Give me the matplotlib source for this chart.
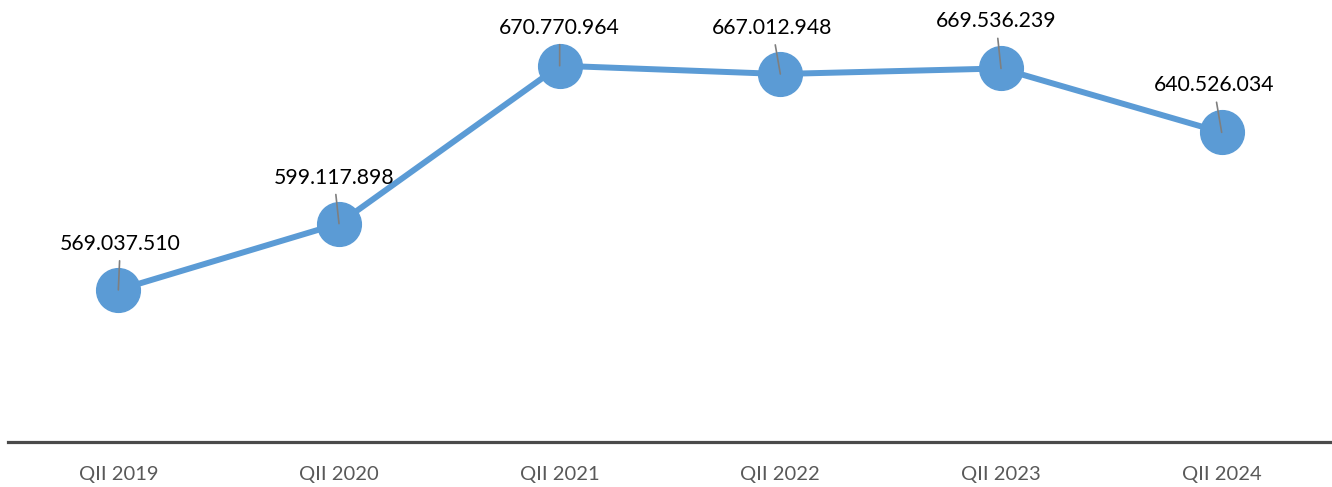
import matplotlib
matplotlib.use('Agg')
import matplotlib.pyplot as plt

# Datos
periodos = ["QII 2019", "QII 2020", "QII 2021", "QII 2022", "QII 2023", "QII 2024"]
valores = [569037510, 599117898, 670770964, 667012948, 669536239, 640526034]
etiquetas = ["569.037.510", "599.117.898", "670.770.964", "667.012.948", "669.536.239", "640.526.034"]

# desplazamiento de las etiquetas (pixeles)
desplazamientos = [(2, 36), (-5, 36), (0, 28), (-8, 36), (-5, 37), (-8, 37)]

plt.rcParams['font.family'] = ['Lato', 'DejaVu Sans']

fig = plt.figure(figsize=(13.32, 4.87), dpi=100)
ax = fig.add_axes([8 / 1332, 45 / 487, 1324 / 1332, 442 / 487])

x = list(range(len(periodos)))
ax.plot(x, valores, color="#5B9BD5", lw=4.3, marker="o", markersize=31.5, zorder=2)

for xi, v, txt, off in zip(x, valores, etiquetas, desplazamientos):
    ax.annotate(txt, (xi, v), xytext=off, textcoords="offset pixels",
                ha="center", va="bottom", fontsize=15.3, color="black",
                arrowprops=dict(arrowstyle="-", color="#7f7f7f", lw=1.2,
                                shrinkA=3, shrinkB=0),
                zorder=5)

ax.set_xlim(-0.5, len(periodos) - 0.5)
ax.set_ylim(500e6, 700.6e6)
ax.set_xticks(x)
ax.set_xticklabels(periodos, fontsize=14.5, color="#595959")
ax.tick_params(axis="x", length=0, pad=17)
ax.set_yticks([])
for s in ["top", "left", "right"]:
    ax.spines[s].set_visible(False)
ax.spines["bottom"].set_color("#4a4a4a")
ax.spines["bottom"].set_linewidth(2.3)
ax.patch.set_alpha(0)

fig.savefig("out.png", dpi=100)
